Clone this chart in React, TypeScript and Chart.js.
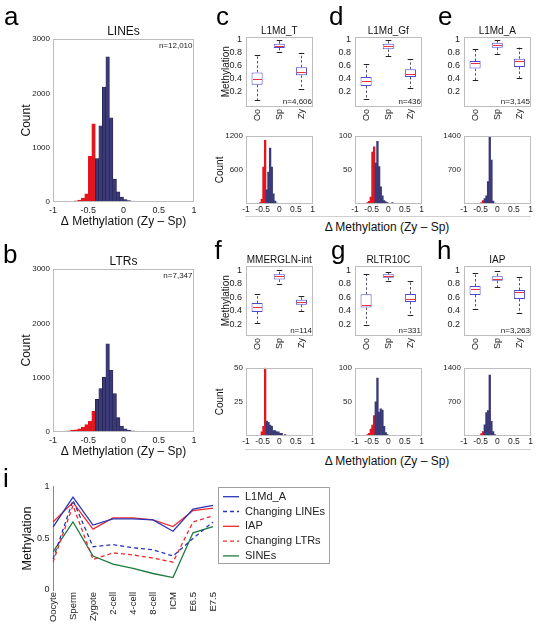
import React, { useEffect, useRef } from "react";
import { Chart, registerables } from "chart.js";

Chart.register(...registerables);

const FONT = "'Liberation Sans', Arial, Helvetica, sans-serif";
Chart.defaults.font.family = FONT;
Chart.defaults.color = "#222222";

// ---------------- data ----------------
const BIN_START = -1;
const BIN_WIDTH = 0.05;
const RED_BELOW = -0.4;

// 40 bins of width 0.05 from -1 to 1
const LINES_COUNTS = [3, 4, 5, 6, 8, 12, 20, 35, 70, 150, 840, 1440, 800, 1400, 2115, 2670, 1550, 420, 185, 90, 45, 25, 15, 10, 7, 5, 4, 3, 2, 2, 1, 1, 1, 0, 0, 0, 0, 0, 0, 0];
const LTRS_COUNTS = [8, 10, 12, 15, 20, 30, 40, 60, 90, 135, 195, 385, 600, 800, 1010, 1625, 1135, 705, 265, 110, 60, 35, 20, 15, 10, 8, 5, 4, 3, 2, 2, 1, 0, 0, 0, 0, 0, 0, 0, 0];
const L1MD_T_COUNTS = [0, 0, 0, 0, 0, 0, 0, 10, 25, 80, 650, 1120, 250, 560, 985, 650, 180, 50, 15, 5, 0, 0, 0, 0, 0, 0, 0, 0, 0, 0, 0, 0, 0, 0, 0, 0, 0, 0, 0, 0];
const L1MD_GF_COUNTS = [0, 0, 0, 0, 0, 0, 0, 2, 4, 10, 76, 84, 60, 92, 55, 25, 12, 5, 3, 2, 0, 0, 2, 0, 0, 0, 0, 0, 0, 0, 0, 0, 0, 0, 0, 0, 0, 0, 0, 0];
const L1MD_A_COUNTS = [0, 0, 0, 0, 0, 0, 0, 0, 6, 12, 30, 70, 110, 170, 460, 1380, 900, 60, 20, 8, 0, 0, 0, 0, 0, 0, 0, 0, 0, 0, 0, 0, 0, 0, 0, 0, 0, 0, 0, 0];
const MMERGLN_COUNTS = [0, 0, 0, 0, 0, 0, 0, 0, 0, 3, 7, 50, 11, 10, 8, 7, 4, 4, 3, 3, 2, 2, 0, 1, 0, 0, 0, 0, 0, 0, 0, 0, 0, 0, 0, 0, 0, 0, 0, 0];
const RLTR10C_COUNTS = [0, 0, 0, 0, 0, 0, 0, 2, 4, 10, 16, 30, 50, 85, 35, 40, 38, 14, 5, 2, 0, 0, 0, 0, 0, 0, 0, 0, 0, 0, 0, 0, 0, 0, 0, 0, 0, 0, 0, 0];
const IAP_COUNTS = [0, 0, 0, 0, 0, 0, 0, 0, 5, 15, 50, 90, 230, 480, 520, 1250, 300, 90, 30, 15, 8, 5, 0, 0, 0, 0, 0, 0, 0, 0, 0, 0, 0, 0, 0, 0, 0, 0, 0, 0];

// box plots: [min whisker, q1, median, q3, max whisker] for Oo, Sp, Zy
const BOX_GROUPS = ["Oo", "Sp", "Zy"];
const L1MD_T_BOX = [[0.07, 0.31, 0.395, 0.5, 0.77], [0.81, 0.875, 0.905, 0.94, 1.0], [0.25, 0.455, 0.51, 0.58, 0.8]];
const L1MD_GF_BOX = [[0.1, 0.292, 0.364, 0.43, 0.624], [0.746, 0.853, 0.9, 0.94, 0.99], [0.267, 0.43, 0.47, 0.547, 0.7]];
const L1MD_A_BOX = [[0.38, 0.558, 0.644, 0.675, 0.858], [0.787, 0.879, 0.925, 0.955, 1.0], [0.414, 0.583, 0.67, 0.71, 0.879]];
const MMERGLN_BOX = [[0.225, 0.385, 0.457, 0.515, 0.65], [0.796, 0.864, 0.913, 0.94, 1.0], [0.4, 0.49, 0.525, 0.564, 0.627]];
const RLTR10C_BOX = [[0.185, 0.45, 0.49, 0.646, 0.94], [0.84, 0.888, 0.917, 0.94, 0.975], [0.335, 0.53, 0.583, 0.65, 0.84]];
const IAP_BOX = [[0.433, 0.636, 0.728, 0.767, 0.96], [0.748, 0.845, 0.874, 0.913, 0.99], [0.37, 0.574, 0.685, 0.709, 0.894]];
const BOX_RANGE_TOP = [-0.03, 1.05];
const BOX_RANGE_BOTTOM = [0.03, 1.07];

// panel i
const STAGES = ["Oocyte", "Sperm", "Zygote", "2-cell", "4-cell", "8-cell", "ICM", "E6.5", "E7.5"];
const L1MD_A_LINE = [0.61, 0.9, 0.63, 0.69, 0.69, 0.68, 0.57, 0.785, 0.82];
const CHANGING_LINES_LINE = [0.3, 0.87, 0.42, 0.44, 0.41, 0.39, 0.33, 0.5, 0.66];
const IAP_LINE = [0.66, 0.85, 0.59, 0.7, 0.7, 0.68, 0.615, 0.77, 0.795];
const CHANGING_LTRS_LINE = [0.27, 0.82, 0.295, 0.36, 0.34, 0.31, 0.27, 0.66, 0.72];
const SINES_LINE = [0.37, 0.66, 0.33, 0.25, 0.21, 0.16, 0.12, 0.555, 0.615];

// ---------------- styles ----------------
const RED = "#e3161f";
const NAVY = "#3b3a78";
const NAVY_EDGE = "#1d1c42";
const FRAME = "#bdbdbd";
const BOX_BLUE = "#4a4ad6";
const MEDIAN_RED = "#f0303a";
const WHISKER = "#555566";
const BLUE_LINE = "#2a36b8";
const RED_LINE = "#ee2a2d";
const GREEN_LINE = "#1b7b3e";
const XLABEL = "\u0394 Methylation (Zy \u2013 Sp)";

// ---------------- plugins ----------------
const framePlugin = {
  id: "frame",
  afterDraw(chart: any, _a: any, opts: any) {
    if (!opts || !opts.color) return;
    const { ctx, chartArea: a } = chart;
    ctx.save();
    ctx.strokeStyle = opts.color;
    ctx.lineWidth = 1;
    const l = Math.round(a.left) + 0.5;
    const t = Math.round(a.top) + 0.5;
    const r = Math.round(a.right) - 0.5;
    const b = Math.round(a.bottom) - 0.5;
    ctx.strokeRect(l, t, r - l, b - t);
    ctx.restore();
  },
};

const panelTitlePlugin = {
  id: "panelTitle",
  afterDraw(chart: any, _a: any, opts: any) {
    if (!opts || !opts.text) return;
    const { ctx, chartArea: a } = chart;
    ctx.save();
    ctx.font = `${opts.size}px ${FONT}`;
    ctx.fillStyle = "#111";
    ctx.textAlign = "center";
    ctx.textBaseline = "middle";
    ctx.fillText(opts.text, (a.left + a.right) / 2, a.top - opts.dy);
    ctx.restore();
  },
};

const notePlugin = {
  id: "note",
  afterDraw(chart: any, _a: any, opts: any) {
    if (!opts || !opts.text) return;
    const { ctx, chartArea: a } = chart;
    ctx.save();
    ctx.font = `${opts.size}px ${FONT}`;
    ctx.fillStyle = "#222";
    ctx.textAlign = "right";
    if (opts.pos === "top") {
      ctx.textBaseline = "top";
      ctx.fillText(opts.text, a.right - opts.dx, a.top + opts.dy);
    } else {
      ctx.textBaseline = "bottom";
      ctx.fillText(opts.text, a.right - opts.dx, a.bottom - opts.dy);
    }
    ctx.restore();
  },
};

const boxPlugin = {
  id: "boxWhiskers",
  afterDatasetsDraw(chart: any, _a: any, opts: any) {
    if (!opts || !opts.stats) return;
    const { ctx } = chart;
    const y = chart.scales.y;
    const meta = chart.getDatasetMeta(0);
    const seg = (x0: number, y0: number, x1: number, y1: number) => {
      ctx.beginPath();
      ctx.moveTo(x0, y0);
      ctx.lineTo(x1, y1);
      ctx.stroke();
    };
    opts.stats.forEach((s: number[], i: number) => {
      const el = meta.data[i];
      if (!el) return;
      const cx = Math.round(el.x) + 0.5;
      const w = el.width;
      const [mn, q1, md, q3, mx] = s;
      const pMn = y.getPixelForValue(mn);
      const pQ1 = y.getPixelForValue(q1);
      const pMd = y.getPixelForValue(md);
      const pQ3 = y.getPixelForValue(q3);
      const pMx = y.getPixelForValue(mx);
      ctx.save();
      ctx.lineWidth = 1;
      ctx.strokeStyle = WHISKER;
      ctx.setLineDash([2.5, 2]);
      seg(cx, pQ3, cx, pMx);
      seg(cx, pQ1, cx, pMn);
      ctx.setLineDash([]);
      ctx.strokeStyle = "#222";
      seg(cx - w / 4, Math.round(pMx) + 0.5, cx + w / 4, Math.round(pMx) + 0.5);
      seg(cx - w / 4, Math.round(pMn) + 0.5, cx + w / 4, Math.round(pMn) + 0.5);
      ctx.strokeStyle = MEDIAN_RED;
      seg(cx - w / 2 + 1, Math.round(pMd) + 0.5, cx + w / 2 - 1, Math.round(pMd) + 0.5);
      ctx.restore();
    });
  },
};

const boxLegendPlugin = {
  id: "boxLegend",
  afterDraw(chart: any, _a: any, opts: any) {
    if (!opts) return;
    const { ctx } = chart;
    ctx.save();
    ctx.strokeStyle = opts.borderColor;
    ctx.lineWidth = 1;
    ctx.strokeRect(opts.x + 0.5, opts.y + 0.5, opts.w, opts.h);
    chart.data.datasets.forEach((ds: any, i: number) => {
      const cy = opts.rowStart + i * opts.rowGap;
      ctx.strokeStyle = ds.borderColor;
      ctx.lineWidth = ds.borderWidth;
      ctx.setLineDash(ds.borderDash || []);
      ctx.beginPath();
      ctx.moveTo(opts.lineX0, cy);
      ctx.lineTo(opts.lineX1, cy);
      ctx.stroke();
      ctx.setLineDash([]);
      ctx.fillStyle = "#222";
      ctx.font = `${opts.fontSize}px ${FONT}`;
      ctx.textAlign = "left";
      ctx.textBaseline = "middle";
      ctx.fillText(ds.label, opts.textX, cy);
    });
    ctx.restore();
  },
};

// ---------------- config builders ----------------
function histConfig(o: any) {
  const pts = o.counts
    .map((c: number, i: number) => ({ x: BIN_START + BIN_WIDTH * (i + 0.5), y: c }))
    .filter((p: any) => p.y > 0);
  const isRed = (p: any) => p.x < RED_BELOW;
  return {
    type: "bar",
    data: {
      datasets: [
        {
          data: pts,
          backgroundColor: pts.map((p: any) => (isRed(p) ? RED : NAVY)),
          borderColor: pts.map((p: any) => (isRed(p) ? RED : NAVY_EDGE)),
          borderWidth: o.edge,
          borderSkipped: "bottom",
          barPercentage: 1,
          categoryPercentage: 1,
        },
      ],
    },
    options: {
      responsive: false,
      animation: false,
      events: [],
      layout: { padding: o.pad },
      plugins: {
        legend: { display: false },
        tooltip: { enabled: false },
        title: { display: false },
        panelTitle: o.title ? { text: o.title, size: o.titleSize, dy: o.titleDy } : {},
        frame: { color: FRAME },
        note: o.note ? { text: o.note, pos: o.notePos, size: 8, dx: o.noteDx, dy: o.noteDy } : {},
      },
      scales: {
        x: {
          type: "linear",
          min: -1,
          max: 1,
          offset: false,
          grid: { display: false, drawTicks: false },
          border: { display: false },
          ticks: {
            stepSize: 0.5,
            autoSkip: false,
            maxRotation: 0,
            minRotation: 0,
            font: { size: o.xTickSize },
            color: "#222",
            padding: o.xTickPad,
            callback: (v: number) => String(v),
          },
          title: o.xTitle
            ? { display: true, text: o.xTitle, font: { size: o.xTitleSize }, color: "#111", padding: { top: 0, bottom: o.xTitlePad } }
            : { display: false },
          afterFit: (s: any) => {
            s.height = o.axisH;
          },
        },
        y: {
          min: 0,
          max: o.yMax,
          grid: { display: false, drawTicks: false },
          border: { display: false },
          ticks: {
            stepSize: o.yStep,
            font: { size: o.yTickSize },
            color: "#222",
            padding: o.yTickPad,
            callback: (v: number) => (v === 0 && !o.zeroLabel ? "" : String(v)),
          },
          title: o.yTitle
            ? { display: true, text: o.yTitle, font: { size: o.yTitleSize }, color: "#111", padding: { top: o.yTitlePad, bottom: 0 } }
            : { display: false },
          afterFit: (s: any) => {
            s.width = o.axisW;
          },
        },
      },
    },
    plugins: [framePlugin, notePlugin, panelTitlePlugin],
  };
}

function boxConfig(o: any) {
  return {
    type: "bar",
    data: {
      labels: BOX_GROUPS,
      datasets: [
        {
          data: o.stats.map((s: number[]) => [s[1], s[3]]),
          backgroundColor: "#ffffff",
          borderColor: BOX_BLUE,
          borderWidth: 1,
          borderSkipped: false,
          barPercentage: 0.5,
          categoryPercentage: 1,
        },
      ],
    },
    options: {
      responsive: false,
      animation: false,
      events: [],
      layout: { padding: { left: 0, right: 5.5, top: 12.5, bottom: 0 } },
      plugins: {
        legend: { display: false },
        tooltip: { enabled: false },
        title: { display: false },
        panelTitle: { text: o.title, size: 10, dy: 5.5 },
        frame: { color: FRAME },
        note: { text: o.note, pos: "bottom", size: 8, dx: 0.5, dy: 1.5 },
        boxWhiskers: { stats: o.stats },
      },
      scales: {
        x: {
          grid: { display: false, drawTicks: false },
          border: { display: false },
          ticks: { autoSkip: false, minRotation: 90, maxRotation: 90, font: { size: 9 }, color: "#222", padding: 2 },
          afterFit: (s: any) => {
            s.height = 16;
          },
        },
        y: {
          min: o.range[0],
          max: o.range[1],
          grid: { display: false, drawTicks: false },
          border: { display: false },
          ticks: {
            stepSize: 0.2,
            includeBounds: false,
            font: { size: 9 },
            color: "#222",
            padding: 4,
            callback: (v: number) => (Math.abs(v) < 1e-9 ? "" : String(Math.round(v * 10) / 10)),
          },
          title: o.yTitle
            ? { display: true, text: o.yTitle, font: { size: 10 }, color: "#111", padding: { top: 10.7, bottom: 0 } }
            : { display: false },
          afterFit: (s: any) => {
            s.width = 36;
          },
        },
      },
    },
    plugins: [boxPlugin, framePlugin, notePlugin, panelTitlePlugin],
  };
}

function smallHist(counts: number[], yMax: number, yStep: number, yTitle?: string) {
  return histConfig({
    counts,
    yMax,
    yStep,
    zeroLabel: false,
    yTitle,
    yTitleSize: 10,
    yTitlePad: 4,
    axisW: 36,
    axisH: 12,
    pad: { left: 0, right: 5.5, top: 7, bottom: 0 },
    yTickSize: 8,
    yTickPad: 3,
    xTickSize: 8.5,
    xTickPad: 1,
    edge: 0,
  });
}

function bigHist(counts: number[], title: string, note: string) {
  return histConfig({
    counts,
    yMax: 3000,
    yStep: 1000,
    zeroLabel: true,
    title,
    titleSize: 12,
    titleDy: 7.5,
    yTitle: "Count",
    yTitleSize: 12,
    yTitlePad: 19.8,
    xTitle: XLABEL,
    xTitleSize: 12,
    xTitlePad: 7.8,
    axisW: 53,
    axisH: 35,
    pad: { left: 0, right: 6, top: 17, bottom: 0 },
    yTickSize: 8,
    yTickPad: 3,
    xTickSize: 9,
    xTickPad: 3,
    note,
    notePos: "top",
    noteDx: 1.5,
    noteDy: 3,
    edge: 0.6,
  });
}

function lineConfig() {
  const mk = (label: string, data: number[], color: string, dash: number[]) => ({
    label,
    data,
    borderColor: color,
    backgroundColor: color,
    borderWidth: 1.3,
    borderDash: dash,
    pointRadius: 0,
    tension: 0,
    fill: false,
  });
  return {
    type: "line",
    data: {
      labels: STAGES,
      datasets: [
        mk("L1Md_A", L1MD_A_LINE, BLUE_LINE, []),
        mk("Changing LINEs", CHANGING_LINES_LINE, BLUE_LINE, [4, 3]),
        mk("IAP", IAP_LINE, RED_LINE, []),
        mk("Changing LTRs", CHANGING_LTRS_LINE, RED_LINE, [4, 3]),
        mk("SINEs", SINES_LINE, GREEN_LINE, []),
      ],
    },
    options: {
      responsive: false,
      animation: false,
      events: [],
      layout: { padding: { left: 0, right: 122, top: 8.5, bottom: 0 } },
      plugins: {
        legend: { display: false },
        tooltip: { enabled: false },
        boxLegend: {
          x: 218,
          y: 9,
          w: 111,
          h: 76,
          borderColor: "#a0a0a0",
          rowStart: 18.7,
          rowGap: 14.8,
          lineX0: 223,
          lineX1: 239,
          textX: 245,
          fontSize: 11,
        },
      },
      scales: {
        x: {
          offset: false,
          grid: { display: false, drawTicks: false },
          border: { display: false },
          ticks: { autoSkip: false, minRotation: 90, maxRotation: 90, font: { size: 9.5 }, color: "#222", padding: 2 },
          afterFit: (s: any) => {
            s.height = 35;
          },
        },
        y: {
          min: 0,
          max: 1,
          grid: { display: false, drawTicks: false },
          border: { display: true, color: "#8a8a8a", width: 1 },
          ticks: { stepSize: 0.5, font: { size: 9 }, color: "#222", padding: 3.5, callback: (v: number) => String(v) },
          title: { display: true, text: "Methylation", font: { size: 12.5 }, color: "#111", padding: { top: 20, bottom: 0 } },
          afterFit: (s: any) => {
            s.width = 53;
          },
        },
      },
    },
    plugins: [boxLegendPlugin],
  };
}

// ---------------- components ----------------
function ChartCanvas(props: { left: number; top: number; width: number; height: number; make: () => any }) {
  const ref = useRef<HTMLCanvasElement | null>(null);
  useEffect(() => {
    if (!ref.current) return;
    const chart = new Chart(ref.current, props.make());
    return () => chart.destroy();
  }, []);
  return (
    <div style={{ position: "absolute", left: props.left, top: props.top, width: props.width, height: props.height }}>
      <canvas ref={ref} width={props.width} height={props.height} style={{ display: "block" }} />
    </div>
  );
}

function Letter(props: { ch: string; left: number; top: number }) {
  return (
    <div style={{ position: "absolute", left: props.left, top: props.top, font: `26px ${FONT}`, lineHeight: "26px", color: "#000" }}>
      {props.ch}
    </div>
  );
}

function SharedXLabel(props: { top: number; lineTop: number }) {
  return (
    <>
      <div style={{ position: "absolute", left: 245, top: props.lineTop, width: 286, height: 0, borderTop: "1px solid #d0d0d0" }} />
      <div style={{ position: "absolute", left: 287, width: 200, top: props.top, textAlign: "center", font: `12px ${FONT}`, lineHeight: "14px", color: "#111" }}>
        {XLABEL}
      </div>
    </>
  );
}

const BOX_LEFTS = [246, 355.3, 464];

export default function App() {
  return (
    <div style={{ position: "absolute", left: 0, top: 0, width: 537, height: 625, background: "#fff", overflow: "hidden" }}>
      <ChartCanvas left={0} top={22} width={200} height={215} make={() => bigHist(LINES_COUNTS, "LINEs", "n=12,010")} />
      <ChartCanvas left={0} top={252} width={200} height={215} make={() => bigHist(LTRS_COUNTS, "LTRs", "n=7,347")} />

      <ChartCanvas left={BOX_LEFTS[0] - 36} top={23.5} width={108} height={99.5} make={() => boxConfig({ stats: L1MD_T_BOX, title: "L1Md_T", note: "n=4,606", range: BOX_RANGE_TOP, yTitle: "Methylation" })} />
      <ChartCanvas left={BOX_LEFTS[1] - 36} top={23.5} width={108} height={99.5} make={() => boxConfig({ stats: L1MD_GF_BOX, title: "L1Md_Gf", note: "n=436", range: BOX_RANGE_TOP })} />
      <ChartCanvas left={BOX_LEFTS[2] - 36} top={23.5} width={108} height={99.5} make={() => boxConfig({ stats: L1MD_A_BOX, title: "L1Md_A", note: "n=3,145", range: BOX_RANGE_TOP })} />

      <ChartCanvas left={BOX_LEFTS[0] - 36} top={128} width={108} height={88} make={() => smallHist(L1MD_T_COUNTS, 1200, 600, "Count")} />
      <ChartCanvas left={BOX_LEFTS[1] - 36} top={128} width={108} height={88} make={() => smallHist(L1MD_GF_COUNTS, 100, 50)} />
      <ChartCanvas left={BOX_LEFTS[2] - 36} top={128} width={108} height={88} make={() => smallHist(L1MD_A_COUNTS, 1400, 700)} />

      <ChartCanvas left={BOX_LEFTS[0] - 36} top={253} width={108} height={99.5} make={() => boxConfig({ stats: MMERGLN_BOX, title: "MMERGLN-int", note: "n=114", range: BOX_RANGE_BOTTOM, yTitle: "Methylation" })} />
      <ChartCanvas left={BOX_LEFTS[1] - 36} top={253} width={108} height={99.5} make={() => boxConfig({ stats: RLTR10C_BOX, title: "RLTR10C", note: "n=331", range: BOX_RANGE_BOTTOM })} />
      <ChartCanvas left={BOX_LEFTS[2] - 36} top={253} width={108} height={99.5} make={() => boxConfig({ stats: IAP_BOX, title: "IAP", note: "n=3,263", range: BOX_RANGE_BOTTOM })} />

      <ChartCanvas left={BOX_LEFTS[0] - 36} top={360} width={108} height={88} make={() => smallHist(MMERGLN_COUNTS, 50, 25, "Count")} />
      <ChartCanvas left={BOX_LEFTS[1] - 36} top={360} width={108} height={88} make={() => smallHist(RLTR10C_COUNTS, 100, 50)} />
      <ChartCanvas left={BOX_LEFTS[2] - 36} top={360} width={108} height={88} make={() => smallHist(IAP_COUNTS, 1400, 700)} />

      <SharedXLabel top={220} lineTop={216} />
      <SharedXLabel top={454} lineTop={449} />

      <ChartCanvas left={0} top={478} width={335} height={147} make={() => lineConfig()} />

      <Letter ch="a" left={4} top={3} />
      <Letter ch="b" left={3} top={241} />
      <Letter ch="c" left={216} top={3} />
      <Letter ch="d" left={329} top={3} />
      <Letter ch="e" left={438} top={3} />
      <Letter ch="f" left={214.5} top={237} />
      <Letter ch="g" left={331} top={237} />
      <Letter ch="h" left={437} top={237} />
      <Letter ch="i" left={3} top={465} />
    </div>
  );
}
